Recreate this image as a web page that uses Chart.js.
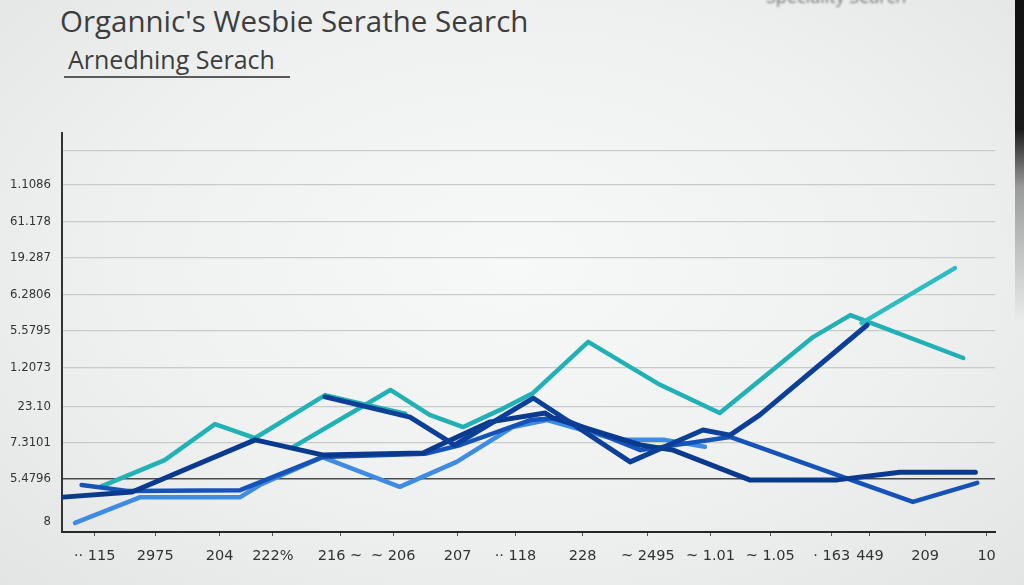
<!DOCTYPE html>
<html>
<head>
<meta charset="utf-8">
<script src="https://cdn.jsdelivr.net/npm/chart.js@4"></script>
<style>
  html, body { margin: 0; padding: 0; width: 1024px; height: 585px; overflow: hidden; }
  body {
    position: relative;
    background: radial-gradient(ellipse at 50% 45%, #f7f8f8 0%, #eff1f1 55%, #e3e5e5 100%);
    font-family: 'Open Sans', sans-serif;
  }
  .title { position: absolute; left: 60px; top: 0px; font-size: 29.5px; color: #3d3d3d; }
  .sub { position: absolute; left: 68px; top: 42px; font-size: 25px; color: #3d3d3d; }
  .rule { position: absolute; left: 64px; top: 76px; width: 226px; height: 2px; background: #5a5a5a; }
  .corner { position: absolute; left: 766px; top: -16px; font-size: 18px; color: #777; filter: blur(0.8px); }
  .edge { position: absolute; right: 0; top: 0; width: 9px; height: 585px;
          background: linear-gradient(to bottom, #111 0%, #1a1a1a 22%, #9a9a9a 32%, rgba(200,200,200,0) 55%); }
  canvas { position: absolute; left: 0; top: 0; }
</style>
</head>
<body>
<div class="title">Organnic's Wesbie Serathe Search</div>
<div class="sub">Arnedhing Serach</div>
<div class="rule"></div>
<div class="corner">Speciality Search</div>
<canvas id="chart" width="1024" height="585"></canvas>
<div class="edge"></div>
<script>
// axis labels
const xTickValues = [3.5, 10, 16.9, 22.6, 29.8, 35.5, 42.4, 48.6, 55.8, 62.8, 69.5, 75.9, 82.5, 86.6, 92.5, 99.1];
const xTickLabels = ['·· 115', '2975', '204', '222%', '216 ~', '~ 206', '207', '·· 118', '228', '~ 2495',
                     '~ 1.01', '~ 1.05', '· 163', '449', '209', '10'];
const yTickValues = [0.27, 1.45, 2.44, 3.42, 4.47, 5.48, 6.46, 7.47, 8.45, 9.46, 10.4];
const yTickLabels = ['8', '5.4796', '7.3101', '23.10', '1.2073', '5.5795', '6.2806', '19.287', '61.178', '1.1086', ''];

// series
const tealAX = [4.1, 11.0, 16.4, 20.7, 28.2, 32.2, 36.8];
const tealAY = [1.23, 1.96, 2.94, 2.56, 3.73, 3.49, 3.22];

const tealBX = [24.8, 35.2, 39.4, 43.0, 46.9, 50.5, 56.4, 64.1, 70.5, 80.5, 84.5, 96.6];
const tealBY = [2.32, 3.87, 3.19, 2.86, 3.32, 3.79, 5.18, 4.01, 3.24, 5.31, 5.91, 4.74];

const tealCX = [85.7, 95.7];
const tealCY = [5.69, 7.19];

const navy1X = [0.1, 7.5, 20.7, 27.9, 38.7, 40.5, 45.9, 51.8, 52.6, 62.0, 65.5, 73.7, 83.1, 89.8, 97.9];
const navy1Y = [0.95, 1.09, 2.51, 2.10, 2.15, 2.37, 3.00, 3.24, 3.11, 2.37, 2.23, 1.42, 1.42, 1.63, 1.63];

const navy2X = [28.2, 37.3, 42.1, 50.5, 60.9, 68.7, 71.6, 74.8, 86.3];
const navy2Y = [3.68, 3.13, 2.37, 3.65, 1.91, 2.78, 2.64, 3.19, 5.64];

const blueX = [2.1, 7.0, 19.1, 27.9, 38.9, 42.7, 50.2, 53.4, 62.0, 71.6, 91.2, 98.1];
const blueY = [1.28, 1.12, 1.14, 2.04, 2.13, 2.37, 3.05, 3.11, 2.23, 2.59, 0.82, 1.34];

const lightX = [1.4, 8.4, 19.1, 21.2, 27.9, 36.2, 42.3, 48.3, 52.0, 59.5, 64.6, 68.9];
const lightY = [0.25, 0.95, 0.95, 1.28, 2.04, 1.23, 1.91, 2.86, 3.05, 2.51, 2.51, 2.32];

function pts(xs, ys) {
  return xs.map((x, i) => ({ x: x, y: ys[i] }));
}

function line(label, xs, ys, color, width) {
  return {
    label: label,
    data: pts(xs, ys),
    borderColor: color,
    borderWidth: width,
    pointRadius: 0,
    tension: 0,
    fill: false,
    borderCapStyle: 'round',
    borderJoinStyle: 'round'
  };
}

new Chart(document.getElementById('chart'), {
  type: 'line',
  data: {
    datasets: [
      line('Navy 2', navy2X, navy2Y, '#0c3f98', 5),
      line('Navy 1', navy1X, navy1Y, '#0a3a8e', 5),
      line('Blue', blueX, blueY, '#1553b8', 4.5),
      line('Teal C', tealCX, tealCY, '#2cbcc2', 4.5),
      line('Teal A', tealAX, tealAY, '#22b2b6', 4.5),
      line('Teal B', tealBX, tealBY, '#20b0b6', 4.5),
      line('Light', lightX, lightY, '#3d8be3', 4.5)
    ]
  },
  options: {
    responsive: false,
    animation: false,
    layout: { padding: { top: 133, right: 29, left: 0, bottom: 0 } },
    plugins: { legend: { display: false }, tooltip: { enabled: false } },
    scales: {
      x: {
        type: 'linear',
        min: 0,
        max: 100,
        afterBuildTicks: (s) => { s.ticks = xTickValues.map(v => ({ value: v })); },
        afterFit: (s) => { s.height = 53; },
        border: { color: '#262626', width: 2 },
        grid: { drawOnChartArea: false, tickLength: 4, color: '#555' },
        ticks: {
          color: '#333',
          padding: 12,
          maxRotation: 0,
          autoSkip: false,
          font: { family: 'DejaVu Sans', size: 14.5 },
          callback: (v) => xTickLabels[xTickValues.indexOf(v)]
        }
      },
      y: {
        type: 'linear',
        min: 0,
        max: 10.87,
        afterBuildTicks: (s) => { s.ticks = yTickValues.map(v => ({ value: v })); },
        afterFit: (s) => { s.width = 62; },
        border: { color: '#333', width: 2 },
        grid: {
          drawTicks: false,
          color: (c) => {
            const v = c.tick && c.tick.value;
            if (v === 0.27) return 'rgba(0,0,0,0)';
            if (v === 1.45) return '#4a4a4a';
            return '#c9cbcb';
          },
          lineWidth: (c) => (c.tick && c.tick.value === 1.45 ? 1.6 : 1.2)
        },
        ticks: {
          color: '#333',
          padding: 11,
          autoSkip: false,
          font: { family: 'DejaVu Sans Condensed', size: 13 },
          callback: (v) => yTickLabels[yTickValues.indexOf(v)]
        }
      }
    }
  }
});
</script>
</body>
</html>
